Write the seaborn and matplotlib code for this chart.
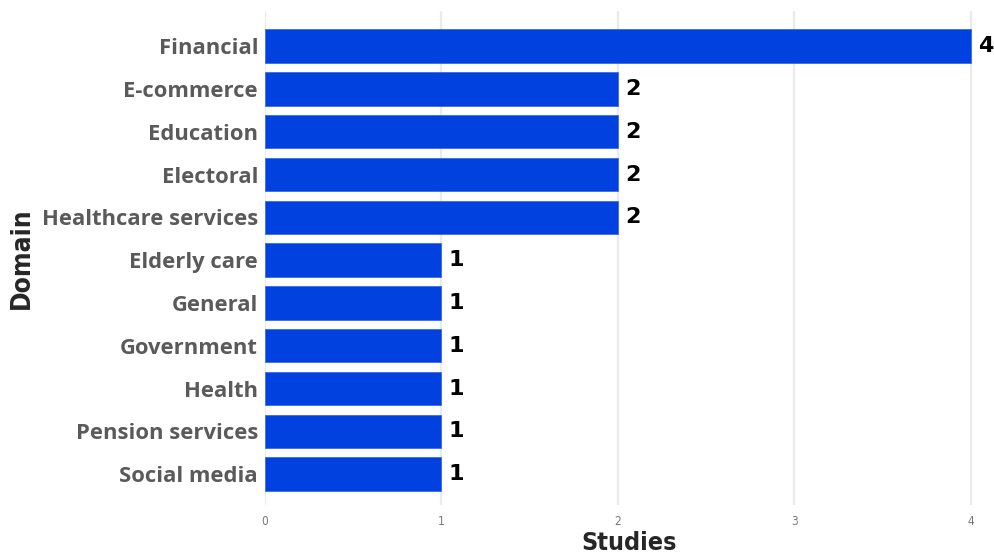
import matplotlib
matplotlib.use("Agg")
import matplotlib.pyplot as plt
import seaborn as sns
import pandas as pd

# Data
domains = ["Financial", "E-commerce", "Education", "Electoral", "Healthcare services",
           "Elderly care", "General", "Government", "Health", "Pension services", "Social media"]
studies = [4, 2, 2, 2, 2, 1, 1, 1, 1, 1, 1]
x_ticks = [0, 1, 2, 3, 4]

df = pd.DataFrame({"Domain": domains, "Studies": studies})

sns.set_style("white")
fig = plt.figure(figsize=(9.94, 5.6), dpi=100)
ax = fig.add_axes([265 / 994, 1 - 505 / 560, (993 - 265) / 994, (505 - 11) / 560])

sns.barplot(data=df, x="Studies", y="Domain", color="#0041E0", saturation=1,
            width=0.78, edgecolor="#3a6af0", linewidth=0.6, ax=ax, zorder=2)

ax.set_xlim(0, 4.125)
ax.set_ylim(10.72, -0.82)
ax.set_xticks(x_ticks)
ax.grid(axis="x", color="#ebebeb", linewidth=1.6, zorder=0)
ax.set_axisbelow(True)
for s in ax.spines.values():
    s.set_visible(False)

ax.tick_params(axis="x", length=0, pad=7, labelsize=8.5, labelcolor="#777777")
ax.tick_params(axis="y", length=0, pad=5)
for lab in ax.get_xticklabels():
    lab.set_fontstretch("condensed")
    lab.set_fontweight("light")
for lab in ax.get_yticklabels():
    lab.set_fontfamily("Open Sans")
    lab.set_fontweight("bold")
    lab.set_fontsize(15.8)
    lab.set_color("#5a5a5a")

# value labels
for i, v in enumerate(studies):
    ax.text(v + 0.04, i, str(v), va="center", ha="left", fontsize=16,
            fontweight="bold", color="black", clip_on=False)

ax.set_xlabel("Studies", fontsize=18, fontweight="bold", labelpad=2)
ax.set_ylabel("Domain", fontsize=19, fontweight="bold", labelpad=5)
ax.xaxis.label.set_fontstretch("condensed")
ax.yaxis.label.set_fontstretch("condensed")

fig.savefig("out.png", dpi=100)
